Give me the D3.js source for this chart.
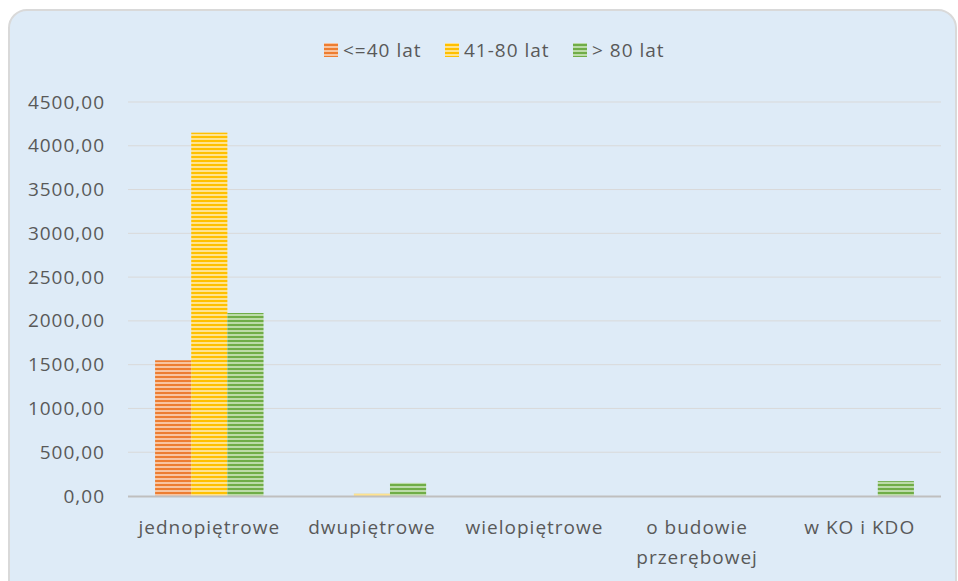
<!DOCTYPE html>
<html><head><meta charset="utf-8">
<script src="https://cdn.jsdelivr.net/npm/d3@7"></script>
<style>
html,body{margin:0;padding:0;background:#fff;}
svg text{font-family:"Open Sans",sans-serif;fill:#595959;letter-spacing:1px;}
</style></head>
<body><svg id="c" width="958" height="581"></svg>
<script>
const categories = [["jednopiętrowe"],["dwupiętrowe"],["wielopiętrowe"],["o budowie","przerębowej"],["w KO i KDO"]];
const seriesNames = ["<=40 lat","41-80 lat","> 80 lat"];
const s1 = [1550, 0, 0, 0, 0];
const s2 = [4150, 25, 0, 0, 0];
const s3 = [2090, 150, 0, 0, 170];
const yTicks = [0,500,1000,1500,2000,2500,3000,3500,4000,4500];
const colors = ["#ed7d31","#ffc000","#70ad47"];
const lightColors = ["#f8c4a0","#ffe38f","#bcdba8"];

const svg = d3.select("#c");
const defs = svg.append("defs");
colors.forEach((c,i)=>{
  const p = defs.append("pattern").attr("id","pat"+i).attr("patternUnits","userSpaceOnUse")
    .attr("width",8).attr("height",4);
  p.append("rect").attr("width",8).attr("height",4).attr("fill",lightColors[i]);
  p.append("rect").attr("width",8).attr("height",2).attr("fill",c);
});

svg.append("rect").attr("x",9).attr("y",10).attr("width",947).attr("height",620)
  .attr("rx",18).attr("fill","#deebf7").attr("stroke","#d9d9d9").attr("stroke-width",2);

const x0 = 128, x1 = 941, yTop = 102, yBot = 496;
const y = d3.scaleLinear().domain([0,4500]).range([yBot,yTop]);
const xb = d3.scaleBand().domain(d3.range(categories.length)).range([x0,x1]).paddingInner(0.333).paddingOuter(0.1665);
const xs = d3.scaleBand().domain(d3.range(3)).range([0,xb.bandwidth()]);

const fmt = v => d3.format(".2f")(v).replace(".",",");
const g = svg.append("g");
g.selectAll("line.grid").data(yTicks.filter(t=>t>0)).join("line")
  .attr("x1",x0).attr("x2",x1).attr("y1",d=>y(d)).attr("y2",d=>y(d))
  .attr("stroke","#d9d9d9").attr("stroke-width",1);

const yAxis = d3.axisLeft(y).tickValues(yTicks).tickFormat(fmt).tickSize(0).tickPadding(0);
const ya = svg.append("g").attr("transform","translate(105,0)").call(yAxis);
ya.select(".domain").remove();
ya.selectAll("text").attr("font-size",19).attr("font-family","Open Sans").attr("fill","#595959");

const data = [s1,s2,s3];
data.forEach((s,si)=>{
  svg.append("g").selectAll("rect").data(s).join("rect")
    .attr("x",(d,i)=>xb(i)+xs(si)).attr("width",xs.bandwidth())
    .attr("y",d=>y(d)).attr("height",d=>yBot-y(d))
    .attr("fill","url(#pat"+si+")");
});

svg.append("line").attr("x1",x0).attr("x2",x1).attr("y1",yBot+0.5).attr("y2",yBot+0.5)
  .attr("stroke","#bfbfbf").attr("stroke-width",2);

const xAxis = d3.axisBottom(xb).tickSize(0).tickFormat(()=>"");
const xa = svg.append("g").attr("transform",`translate(0,${yBot})`).call(xAxis);
xa.select(".domain").remove();
categories.forEach((lines,i)=>{
  const t = svg.append("text").attr("x",xb(i)+xb.bandwidth()/2).attr("y",534)
    .attr("text-anchor","middle").attr("font-size",19);
  lines.forEach((l,j)=>t.append("tspan").attr("x",xb(i)+xb.bandwidth()/2).attr("dy",j?30:0).text(l));
});

const legX = [324,445,573];
seriesNames.forEach((n,i)=>{
  svg.append("rect").attr("x",legX[i]).attr("y",43).attr("width",14).attr("height",14).attr("fill","url(#pat"+i+")");
  svg.append("text").attr("x",legX[i]+19).attr("y",57).attr("font-size",19).text(n);
});
</script></body></html>
